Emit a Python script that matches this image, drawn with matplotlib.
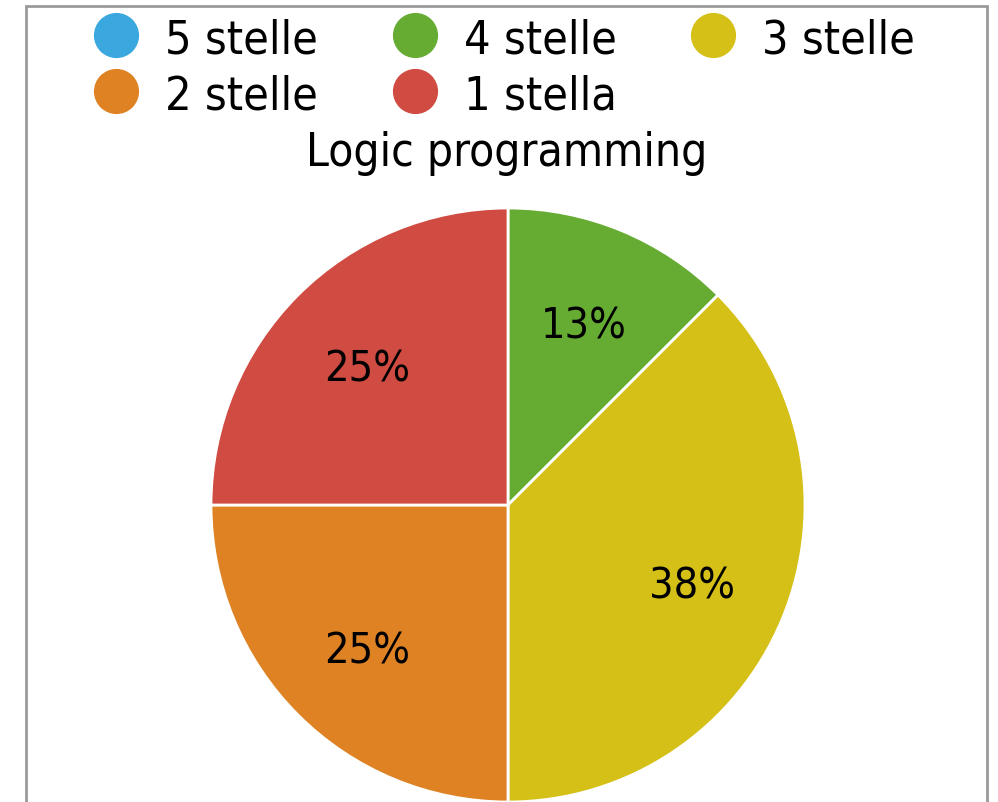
import math
import matplotlib
matplotlib.use("Agg")
import matplotlib.pyplot as plt
from matplotlib.lines import Line2D
from matplotlib.patches import Rectangle

categories = ["5 stelle", "4 stelle", "3 stelle", "2 stelle", "1 stella"]
values = [0, 1, 3, 2, 2]
colors = ["#3AA8DE", "#66AC33", "#D4C017", "#DE8224", "#D04B42"]
title = "Logic programming"

plt.rcParams['font.family'] = ['DejaVu Sans']
FONT = dict(family='DejaVu Sans', stretch='condensed')

W, H = 998, 803
fig = plt.figure(figsize=(W / 100, H / 100), dpi=100)
fig.patch.set_facecolor('white')

# frame
fig.add_artist(Rectangle((26 / W, -0.05), (987 - 26) / W, 1.05 - 7 / H,
                         transform=fig.transFigure, fill=False,
                         edgecolor='#9a9a9a', linewidth=2))

ax = fig.add_axes([0, 0, 1, 1])
cx, cy, r = 508, 803 - 506, 297


def fmt(p):
    if p <= 0:
        return ''
    return '%d%%' % math.floor(p + 0.5)


wedges, texts, autotexts = ax.pie(
    values, colors=colors, startangle=90, counterclock=False,
    autopct=fmt, pctdistance=0.67,
    wedgeprops=dict(edgecolor='white', linewidth=2))
for t in autotexts:
    t.set_fontproperties(dict(FONT, size=31))
    t.set_verticalalignment('center_baseline')
ax.set_aspect('auto')
ax.set_xlim(-cx / r, (W - cx) / r)
ax.set_ylim(-cy / r, (H - cy) / r)
ax.axis('off')

fig.text(507 / W, 1 - 166 / H, title, ha='center', va='baseline',
         fontproperties=dict(FONT, size=33))

# legend laid out in rows of three, like the original
col_x = [116, 414.5, 712.5]
row_y = [36, 91.5]
row_base = [54, 109]
for i, (lab, c) in enumerate(zip(categories, colors)):
    row, col = divmod(i, 3)
    mx, my = col_x[col], row_y[row]
    fig.add_artist(Line2D([mx / W], [1 - my / H], transform=fig.transFigure,
                          marker='o', linestyle='none', markersize=31.5,
                          markerfacecolor=c, markeredgecolor=c))
    fig.text((mx + 49) / W, 1 - row_base[row] / H, lab, ha='left',
             va='baseline', fontproperties=dict(FONT, size=33.5))

fig.savefig("out.png", dpi=100, facecolor='white')
